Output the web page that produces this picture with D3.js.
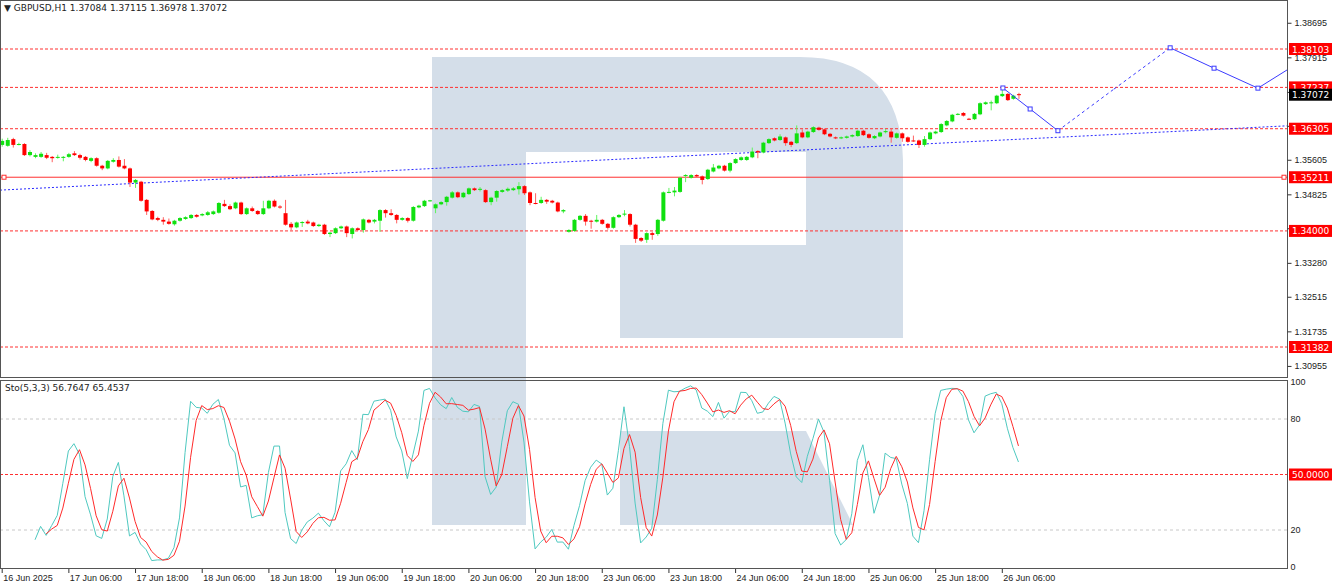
<!DOCTYPE html>
<html>
<head>
<meta charset="utf-8">
<script src="https://cdnjs.cloudflare.com/ajax/libs/d3/7.8.5/d3.min.js"></script>
<style>
  body { margin: 0; background: #fff; }
  svg { display: block; font-family: Tahoma, "DejaVu Sans", sans-serif; }
</style>
</head>
<body>
<div id="main"></div>
<script>
// hourly candles, [open, high, low, close]
const candles = [
[1.3594,1.3608,1.3590,1.3603],[1.3592,1.3610,1.3590,1.3605],[1.3607,1.3610,1.3588,1.3594],[1.3596,1.3599,1.3593,1.3596],
[1.3596,1.3598,1.3569,1.3571],[1.3571,1.3582,1.3568,1.3578],[1.3567,1.3575,1.3564,1.3571],[1.3567,1.3578,1.3565,1.3574],
[1.3571,1.3576,1.3562,1.3565],[1.3567,1.3569,1.3555,1.3564],[1.3565,1.3572,1.3563,1.3567],[1.3565,1.3569,1.3557,1.3567],
[1.3567,1.3576,1.3565,1.3573],[1.3575,1.3580,1.3569,1.3571],[1.3571,1.3574,1.3561,1.3565],[1.3567,1.3569,1.3557,1.3560],
[1.3558,1.3566,1.3555,1.3564],[1.3564,1.3566,1.3545,1.3547],[1.3547,1.3549,1.3537,1.3541],[1.3541,1.3560,1.3539,1.3558],
[1.3556,1.3564,1.3554,1.3560],[1.3560,1.3568,1.3543,1.3545],[1.3547,1.3562,1.3539,1.3541],[1.3541,1.3543,1.3499,1.3509],
[1.3509,1.3517,1.3497,1.3515],[1.3511,1.3513,1.3466,1.3468],[1.3470,1.3472,1.3436,1.3444],[1.3445,1.3447,1.3424,1.3426],
[1.3429,1.3432,1.3422,1.3425],[1.3425,1.3431,1.3414,1.3421],[1.3421,1.3428,1.3414,1.3416],[1.3415,1.3425,1.3412,1.3423],
[1.3423,1.3431,1.3421,1.3429],[1.3427,1.3433,1.3425,1.3431],[1.3429,1.3438,1.3427,1.3436],[1.3436,1.3438,1.3430,1.3432],
[1.3435,1.3440,1.3433,1.3438],[1.3436,1.3445,1.3434,1.3442],[1.3438,1.3446,1.3436,1.3444],[1.3441,1.3465,1.3439,1.3463],
[1.3461,1.3470,1.3454,1.3456],[1.3456,1.3460,1.3447,1.3449],[1.3451,1.3466,1.3449,1.3464],[1.3464,1.3466,1.3436,1.3438],
[1.3438,1.3453,1.3436,1.3451],[1.3451,1.3455,1.3443,1.3445],[1.3445,1.3447,1.3436,1.3438],[1.3438,1.3468,1.3436,1.3451],
[1.3451,1.3470,1.3449,1.3468],[1.3468,1.3471,1.3453,1.3455],[1.3455,1.3458,1.3450,1.3453],[1.3440,1.3470,1.3412,1.3414],
[1.3416,1.3420,1.3402,1.3408],[1.3408,1.3421,1.3406,1.3419],[1.3419,1.3422,1.3409,1.3420],[1.3421,1.3425,1.3415,1.3417],
[1.3419,1.3421,1.3409,1.3411],[1.3411,1.3416,1.3409,1.3414],[1.3414,1.3416,1.3391,1.3393],[1.3393,1.3398,1.3386,1.3396],
[1.3395,1.3408,1.3393,1.3406],[1.3406,1.3412,1.3404,1.3410],[1.3410,1.3412,1.3386,1.3395],[1.3393,1.3408,1.3383,1.3406],
[1.3406,1.3408,1.3400,1.3402],[1.3402,1.3428,1.3396,1.3426],[1.3425,1.3427,1.3417,1.3419],[1.3421,1.3427,1.3417,1.3425],
[1.3423,1.3449,1.3398,1.3447],[1.3447,1.3449,1.3430,1.3440],[1.3440,1.3449,1.3434,1.3436],[1.3436,1.3438,1.3417,1.3425],
[1.3425,1.3431,1.3423,1.3429],[1.3429,1.3431,1.3419,1.3423],[1.3423,1.3456,1.3421,1.3454],[1.3453,1.3459,1.3451,1.3457],
[1.3456,1.3470,1.3454,1.3468],[1.3468,1.3470,1.3466,1.3469],[1.3451,1.3462,1.3440,1.3460],[1.3460,1.3467,1.3458,1.3465],
[1.3465,1.3479,1.3457,1.3477],[1.3475,1.3490,1.3473,1.3487],[1.3487,1.3489,1.3474,1.3476],[1.3476,1.3488,1.3474,1.3486],
[1.3483,1.3498,1.3481,1.3496],[1.3496,1.3498,1.3490,1.3492],[1.3494,1.3499,1.3489,1.3495],[1.3492,1.3494,1.3463,1.3465],
[1.3465,1.3477,1.3458,1.3475],[1.3475,1.3492,1.3466,1.3490],[1.3488,1.3494,1.3486,1.3492],[1.3491,1.3498,1.3488,1.3495],
[1.3492,1.3499,1.3490,1.3496],[1.3494,1.3510,1.3482,1.3501],[1.3501,1.3503,1.3481,1.3485],[1.3487,1.3489,1.3458,1.3463],
[1.3463,1.3485,1.3460,1.3462],[1.3463,1.3477,1.3461,1.3470],[1.3470,1.3472,1.3461,1.3466],[1.3468,1.3470,1.3462,1.3464],
[1.3464,1.3466,1.3442,1.3444],[1.3444,1.3449,1.3440,1.3447],[1.3398,1.3404,1.3396,1.3402],[1.3400,1.3427,1.3398,1.3425],
[1.3425,1.3436,1.3423,1.3434],[1.3434,1.3438,1.3412,1.3421],[1.3423,1.3425,1.3405,1.3422],[1.3421,1.3436,1.3419,1.3425],
[1.3425,1.3427,1.3414,1.3416],[1.3416,1.3418,1.3403,1.3407],[1.3407,1.3433,1.3405,1.3431],[1.3431,1.3438,1.3429,1.3436],
[1.3438,1.3447,1.3433,1.3439],[1.3438,1.3440,1.3410,1.3414],[1.3414,1.3416,1.3373,1.3382],[1.3384,1.3386,1.3375,1.3378],
[1.3380,1.3397,1.3373,1.3395],[1.3395,1.3398,1.3380,1.3391],[1.3393,1.3427,1.3389,1.3425],[1.3423,1.3489,1.3421,1.3487],
[1.3487,1.3497,1.3485,1.3488],[1.3487,1.3499,1.3478,1.3491],[1.3488,1.3522,1.3486,1.3520],[1.3525,1.3528,1.3510,1.3526],
[1.3520,1.3528,1.3518,1.3526],[1.3526,1.3528,1.3521,1.3523],[1.3523,1.3525,1.3505,1.3515],[1.3517,1.3540,1.3515,1.3538],
[1.3534,1.3551,1.3532,1.3543],[1.3541,1.3549,1.3539,1.3547],[1.3547,1.3549,1.3534,1.3536],[1.3536,1.3555,1.3532,1.3553],
[1.3553,1.3564,1.3551,1.3562],[1.3560,1.3568,1.3558,1.3566],[1.3560,1.3569,1.3558,1.3567],[1.3566,1.3588,1.3564,1.3579],
[1.3580,1.3582,1.3564,1.3577],[1.3577,1.3601,1.3575,1.3599],[1.3598,1.3609,1.3596,1.3607],[1.3609,1.3611,1.3602,1.3604],
[1.3605,1.3618,1.3603,1.3613],[1.3611,1.3613,1.3592,1.3598],[1.3601,1.3603,1.3589,1.3594],[1.3598,1.3638,1.3596,1.3620],
[1.3622,1.3629,1.3609,1.3611],[1.3611,1.3626,1.3609,1.3624],[1.3623,1.3636,1.3621,1.3634],[1.3633,1.3635,1.3626,1.3628],
[1.3629,1.3631,1.3616,1.3618],[1.3619,1.3621,1.3611,1.3613],[1.3611,1.3613,1.3607,1.3609],[1.3609,1.3613,1.3607,1.3611],
[1.3610,1.3615,1.3608,1.3613],[1.3613,1.3618,1.3611,1.3616],[1.3614,1.3628,1.3612,1.3626],[1.3626,1.3628,1.3614,1.3616],
[1.3618,1.3620,1.3608,1.3610],[1.3609,1.3616,1.3607,1.3614],[1.3613,1.3624,1.3611,1.3622],[1.3624,1.3630,1.3620,1.3625],
[1.3624,1.3631,1.3599,1.3611],[1.3610,1.3622,1.3608,1.3620],[1.3620,1.3622,1.3601,1.3609],[1.3611,1.3613,1.3599,1.3601],
[1.3604,1.3615,1.3601,1.3603],[1.3604,1.3606,1.3587,1.3594],[1.3594,1.3614,1.3590,1.3607],[1.3607,1.3624,1.3605,1.3622],
[1.3620,1.3626,1.3618,1.3624],[1.3623,1.3643,1.3621,1.3641],[1.3638,1.3650,1.3636,1.3648],[1.3647,1.3664,1.3645,1.3662],
[1.3663,1.3666,1.3661,1.3664],[1.3666,1.3668,1.3658,1.3660],[1.3653,1.3655,1.3650,1.3652],[1.3652,1.3666,1.3650,1.3664],
[1.3663,1.3690,1.3661,1.3688],[1.3686,1.3692,1.3684,1.3690],[1.3689,1.3694,1.3672,1.3690],[1.3688,1.3707,1.3686,1.3705],
[1.3704,1.3722,1.3702,1.3709],[1.3709,1.3711,1.3693,1.3695],[1.3698,1.3707,1.3696,1.3705],[1.37084,1.37115,1.36978,1.37072]
];

const priceTicks = [1.38695, 1.37915, 1.37135, 1.36370, 1.35605, 1.34825, 1.34060, 1.33280, 1.32515, 1.31735, 1.30955];
const dashedLevels = [1.38103, 1.37237, 1.36305, 1.34000, 1.31382];
const solidLevel = 1.35211;
const lastPrice = 1.37072;
const timeLabels = ['16 Jun 2025', '17 Jun 06:00', '17 Jun 18:00', '18 Jun 06:00', '18 Jun 18:00', '19 Jun 06:00',
  '19 Jun 18:00', '20 Jun 06:00', '20 Jun 18:00', '23 Jun 06:00', '23 Jun 18:00', '24 Jun 06:00',
  '24 Jun 18:00', '25 Jun 06:00', '25 Jun 18:00', '26 Jun 06:00'];
// forecast path: [bar index, price]
const forecast = [[180.2, 1.37224], [185.1, 1.3675], [190.1, 1.3626], [200.2, 1.3720], [210.3, 1.3813], [218.2, 1.3767], [226.1, 1.3722], [231.5, 1.3763]];
const forecastDashed = [false, false, true, true, false, false, false];
const trendLine = [[-0.3, 1.3492], [231.3, 1.3637]];
const stoLevels = [80, 20];

const W = 1332, H = 584, plotR = 1287;
const svg = d3.select('#main').append('svg').attr('width', W).attr('height', H);

const x = d3.scaleLinear().domain([0, 180]).range([1.7, 1001.8]);
const y = d3.scaleLinear().domain([1.31382, 1.38103]).range([347, 49]);
const ys = d3.scaleLinear().domain([0, 100]).range([567, 382]);

// watermark logo
svg.append('path')
  .attr('d', 'M432,57 L800,57 Q900,57 903,160 L903,338 L620,338 L620,245 L806,245 L806,152 L526,152 L526,525 L432,525 Z')
  .attr('fill', '#d4dee9');
svg.append('path')
  .attr('d', 'M620,431 L806,431 L853,525 L620,525 Z')
  .attr('fill', '#d4dee9');

const main = svg.append('g');

// levels
dashedLevels.forEach(v => {
  main.append('line').attr('x1', 0).attr('x2', plotR).attr('y1', y(v)).attr('y2', y(v))
    .attr('stroke', '#ff3030').attr('stroke-dasharray', '3,2').attr('stroke-width', 1);
});
main.append('line').attr('x1', 0).attr('x2', plotR).attr('y1', y(solidLevel)).attr('y2', y(solidLevel))
  .attr('stroke', '#ff3030').attr('stroke-width', 1);
main.append('rect').attr('x', 2).attr('y', y(solidLevel) - 2).attr('width', 4).attr('height', 4)
  .attr('fill', '#fff').attr('stroke', '#ff3030');
main.append('rect').attr('x', plotR - 5).attr('y', y(solidLevel) - 2).attr('width', 4).attr('height', 4)
  .attr('fill', '#fff').attr('stroke', '#ff3030');

// trend line
main.append('line')
  .attr('x1', x(trendLine[0][0])).attr('y1', y(trendLine[0][1]))
  .attr('x2', x(trendLine[1][0])).attr('y2', y(trendLine[1][1]))
  .attr('stroke', '#2a2aff').attr('stroke-dasharray', '2,2');

// candles
const cg = main.selectAll('g.c').data(candles).enter().append('g');
cg.append('line')
  .attr('x1', (d, i) => x(i) + 0.5).attr('x2', (d, i) => x(i) + 0.5)
  .attr('y1', d => y(d[1])).attr('y2', d => y(d[2]))
  .attr('stroke', d => d[3] >= d[0] ? '#5ef55e' : '#ff6060');
cg.append('rect')
  .attr('x', (d, i) => x(i) - 1.5)
  .attr('y', d => y(Math.max(d[0], d[3])))
  .attr('width', 4)
  .attr('height', d => Math.max(1, Math.abs(y(d[0]) - y(d[3]))))
  .attr('fill', d => d[3] >= d[0] ? '#10e010' : '#ff0000');

// forecast
for (let k = 0; k < forecast.length - 1; k++) {
  main.append('line')
    .attr('x1', x(forecast[k][0])).attr('y1', y(forecast[k][1]))
    .attr('x2', Math.min(plotR, x(forecast[k + 1][0]))).attr('y2', y(forecast[k + 1][1]))
    .attr('stroke', '#3b3bff').attr('stroke-width', 1)
    .attr('stroke-dasharray', forecastDashed[k] ? '3,3' : null);
}
forecast.slice(0, 7).forEach((p, k) => {
  if (k === 3) return;
  main.append('rect').attr('x', x(p[0]) - 2).attr('y', y(p[1]) - 2).attr('width', 4).attr('height', 4)
    .attr('fill', '#fff').attr('stroke', '#3b3bff');
});

// stochastic 5,3,3
const K = [], D = [];
const raw = candles.map((d, i) => {
  if (i < 4) return null;
  const win = candles.slice(i - 4, i + 1);
  return { c: d[3] - d3.min(win, w => w[2]), r: d3.max(win, w => w[1]) - d3.min(win, w => w[2]) };
});
raw.forEach((r, i) => {
  if (i < 6) { K.push(null); return; }
  const s = raw.slice(i - 2, i + 1);
  K.push(100 * d3.sum(s, v => v.c) / d3.sum(s, v => v.r));
});
K.forEach((k, i) => {
  if (i < 8) { D.push(null); return; }
  D.push(d3.mean(K.slice(i - 2, i + 1)));
});

stoLevels.forEach(v => {
  svg.append('line').attr('x1', 0).attr('x2', plotR).attr('y1', ys(v)).attr('y2', ys(v))
    .attr('stroke', '#c8c8c8').attr('stroke-dasharray', '3,3');
});
svg.append('line').attr('x1', 0).attr('x2', plotR).attr('y1', ys(50)).attr('y2', ys(50))
  .attr('stroke', '#ff3030').attr('stroke-dasharray', '3,2');

const sline = d3.line().defined(d => d != null).x((d, i) => x(i)).y(d => ys(d));
svg.append('path').datum(K).attr('d', sline).attr('fill', 'none').attr('stroke', '#4fc9c0').attr('stroke-width', 1);
svg.append('path').datum(D).attr('d', sline).attr('fill', 'none').attr('stroke', '#ff2a2a').attr('stroke-width', 1);

// frames
svg.append('rect').attr('x', 0.5).attr('y', 0.5).attr('width', plotR).attr('height', 377)
  .attr('fill', 'none').attr('stroke', '#555');
svg.append('rect').attr('x', 0.5).attr('y', 380.5).attr('width', plotR).attr('height', 188)
  .attr('fill', 'none').attr('stroke', '#555');

// right price axis
const yAxis = svg.append('g').attr('transform', `translate(${plotR + 0.5},0)`)
  .call(d3.axisRight(y).tickValues(priceTicks).tickFormat(d3.format('.5f')).tickSize(4).tickPadding(3));
yAxis.select('.domain').remove();
yAxis.selectAll('text').attr('font-size', 9).attr('fill', '#222');
yAxis.selectAll('line').attr('stroke', '#333');

function priceTag(v, bg, txt) {
  const g = svg.append('g').attr('transform', `translate(${plotR + 2},${y(v)})`);
  g.append('rect').attr('x', 0).attr('y', -6).attr('width', 43).attr('height', 12).attr('fill', bg);
  g.append('text').attr('x', 3).attr('y', 3.5).attr('font-size', 9).attr('fill', '#fff').text(txt);
}
dashedLevels.concat([solidLevel]).forEach(v => priceTag(v, '#ff0000', d3.format('.5f')(v)));
priceTag(lastPrice, '#000', d3.format('.5f')(lastPrice));

// stochastic axis
const sAxis = svg.append('g').attr('transform', `translate(${plotR + 0.5},0)`)
  .call(d3.axisRight(ys).tickValues([0, 20, 80, 100]).tickSize(0).tickPadding(3));
sAxis.select('.domain').remove();
sAxis.selectAll('text').attr('font-size', 9).attr('fill', '#222');
const st = svg.append('g').attr('transform', `translate(${plotR + 2},${ys(50)})`);
st.append('rect').attr('y', -6).attr('width', 43).attr('height', 12).attr('fill', '#ff0000');
st.append('text').attr('x', 3).attr('y', 3.5).attr('font-size', 9).attr('fill', '#fff').text('50.0000');

// time axis
const xAxis = svg.append('g').attr('transform', 'translate(0,569)')
  .call(d3.axisBottom(x).tickValues(d3.range(timeLabels.length).map(k => k * 12))
    .tickFormat((d, k) => timeLabels[k]).tickSize(4).tickPadding(2));
xAxis.select('.domain').remove();
xAxis.selectAll('text').attr('text-anchor', 'start').attr('dx', 1).attr('font-size', 9).attr('fill', '#222');
xAxis.selectAll('line').attr('stroke', '#333');

// headers
svg.append('text').attr('x', 4).attr('y', 11).attr('font-size', 9).attr('fill', '#222')
  .text('\u25BC GBPUSD,H1  1.37084 1.37115 1.36978 1.37072');
svg.append('text').attr('x', 5).attr('y', 391).attr('font-size', 9).attr('fill', '#222')
  .text('Sto(5,3,3) ' + d3.format('.4f')(K[K.length - 1]) + ' ' + d3.format('.4f')(D[D.length - 1]));
</script>
</body>
</html>
